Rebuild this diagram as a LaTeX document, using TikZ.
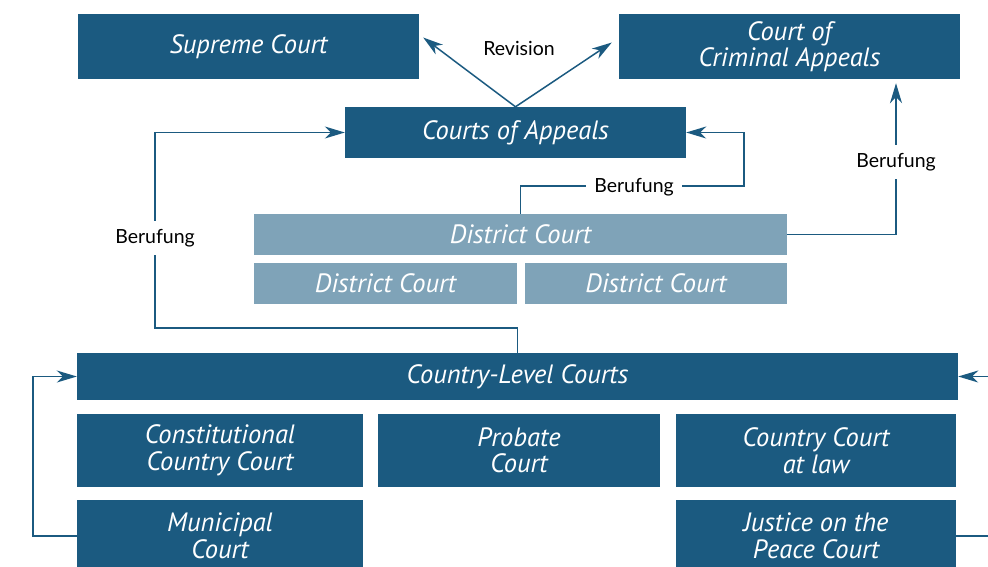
\documentclass[tikz,border=0pt]{standalone}
\usepackage{fontspec}
\setmainfont{PT Sans}
\newfontfamily\labelfont{Lato}
\usetikzlibrary{positioning, calc, arrows.meta}
\definecolor{courtblue}{HTML}{1B5A80}
\definecolor{courtlight}{HTML}{7FA3B8}
\begin{document}
\begin{tikzpicture}[x=1pt, y=-1pt]
      \tikzset{
        court/.style={
          fill=courtblue, text=white, inner sep=0pt, align=center,
          font=\fontsize{26.5}{26.5}\selectfont\itshape
        },
        district/.style={court, fill=courtlight},
        link/.style={draw=courtblue, line width=1.5pt},
        tip/.style={link, -{Stealth[length=20pt, width=12pt, inset=6pt]}},
        note/.style={fill=white, inner sep=8pt, font=\labelfont\fontsize{19.5}{20}\selectfont}
      }
      \useasboundingbox (0,0) rectangle (988,566);
      % upper courts
      \node[court, minimum width=341pt, minimum height=65pt] (supreme) at (248.5,46.5) {Supreme Court};
      \node[court, minimum width=341pt, minimum height=65pt] (cca) at (789.5,46.5) {Court of\\Criminal Appeals};
      \node[court, minimum width=341pt, minimum height=51pt] (appeals) at (515.5,132.5) {Courts of Appeals};
      % district level
      \node[district, minimum width=533pt, minimum height=41pt] (dist) at (520.5,234.5) {District Court};
      \node[district, minimum width=263pt, minimum height=41pt] (distA) at (385.5,283.5) {District Court};
      \node[district, minimum width=262pt, minimum height=41pt] (distB) at (656,283.5) {District Court};
      % county level
      \node[court, minimum width=881pt, minimum height=47pt] (county) at (517.5,376.5) {Country-Level Courts};
      \node[court, minimum width=286pt, minimum height=73pt] (const) at (220,450.5) {Constitutional\\Country Court};
      \node[court, minimum width=282pt, minimum height=73pt] (probate) at (519,450.5) {Probate\\Court};
      \node[court, minimum width=280pt, minimum height=73pt] (atlaw) at (816,450.5) {Country Court\\at law};
      \node[court, minimum width=286pt, minimum height=72pt] (municipal) at (220,536) {Municipal\\Court};
      \node[court, minimum width=280pt, minimum height=72pt] (justice) at (816,536) {Justice on the\\Peace Court};

      % revision
      \draw[tip] (appeals.north) -- ($(supreme.east)+(4,-9)$);
      \draw[tip] (appeals.north) -- ($(cca.west)+(-7,-4)$);
      \node[font=\labelfont\fontsize{19.5}{20}\selectfont] (rev) at (519,48) {Revision};

      % appeals
      \coordinate (lb) at (155,328);
      \draw[tip] (county.north) |- (lb) |- (appeals.west);
      \node[note] (lbl) at (155,238) {Berufung};
      \coordinate (mb) at (744,186);
      \draw[tip] (dist.north) |- (mb) |- (appeals.east);
      \node[note] (mbl) at (634,187) {Berufung};
      \coordinate (rb) at (896,234.5);
      \draw[tip, shorten >=4pt] (dist.east) -- (rb) -- (rb |- cca.south);
      \node[note] (rbl) at (896,162) {Berufung};

      % county loops
      \draw[tip] (municipal.west) -- ++(-44,0) |- (county.west);
      \coordinate (re) at (988,376.5);
      \coordinate (re2) at (988,536);
      \draw[tip] (re) -- (county.east);
      \draw[link] (justice.east) -- (re2);
    \end{tikzpicture}
\end{document}
